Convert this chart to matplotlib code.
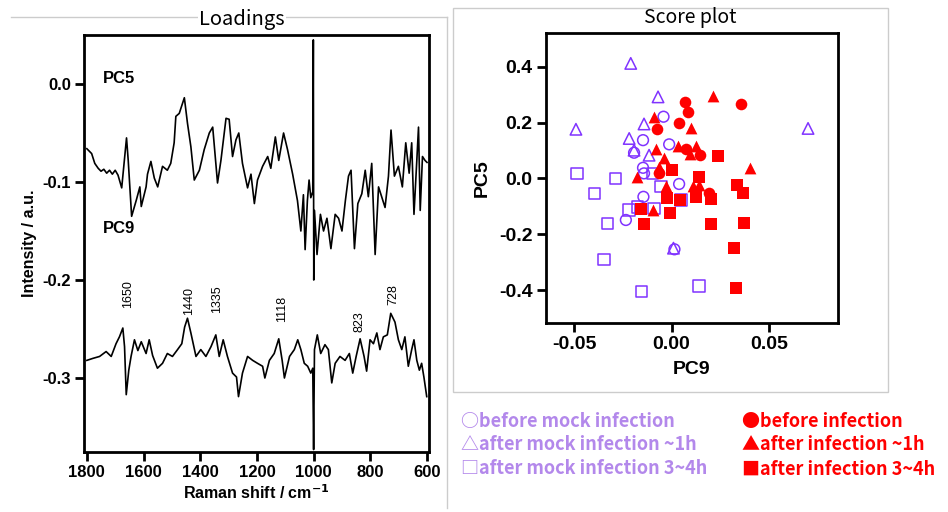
import matplotlib
matplotlib.use("Agg")
import matplotlib.pyplot as plt
from matplotlib.patches import Rectangle
from matplotlib.lines import Line2D

# ---------------- data ----------------
pc5_shift = [1800, 1783, 1772, 1760, 1750, 1740, 1730, 1720, 1710, 1700, 1690, 1677, 1660, 1654, 1642,
             1625, 1613, 1608, 1591, 1586, 1574, 1562, 1550, 1533, 1516, 1504, 1492, 1486, 1474, 1465,
             1456, 1445, 1433, 1421, 1403, 1386, 1368, 1356, 1339, 1327, 1309, 1298, 1286, 1274, 1264,
             1251, 1233, 1221, 1209, 1198, 1180, 1162, 1151, 1135, 1123, 1106, 1092, 1074, 1057, 1045,
             1036, 1030, 1022, 1016, 1010, 1003, 1001, 999.5, 997, 988, 976, 965, 953, 939, 924, 912,
             900, 888, 877, 868, 856, 844, 830, 818, 807, 795, 783, 771, 760, 748, 736, 727, 715, 701,
             687, 675, 663, 654, 646, 636, 630, 624, 616, 607, 600]
pc5_val = [-0.066, -0.071, -0.081, -0.086, -0.089, -0.087, -0.091, -0.088, -0.092, -0.088, -0.093, -0.106,
           -0.055, -0.078, -0.135, -0.118, -0.105, -0.125, -0.105, -0.092, -0.079, -0.096, -0.105, -0.084,
           -0.088, -0.081, -0.060, -0.033, -0.030, -0.022, -0.014, -0.040, -0.064, -0.098, -0.088, -0.067,
           -0.050, -0.044, -0.101, -0.078, -0.035, -0.036, -0.074, -0.057, -0.050, -0.081, -0.106, -0.092,
           -0.122, -0.098, -0.084, -0.074, -0.086, -0.054, -0.078, -0.050, -0.067, -0.092, -0.119, -0.150,
           -0.113, -0.169, -0.119, -0.098, -0.116, -0.110, 0.045, -0.200, -0.129, -0.174, -0.133, -0.150,
           -0.137, -0.168, -0.133, -0.137, -0.150, -0.119, -0.094, -0.088, -0.168, -0.122, -0.112, -0.088,
           -0.115, -0.081, -0.174, -0.105, -0.115, -0.126, -0.094, -0.047, -0.094, -0.084, -0.105, -0.060,
           -0.091, -0.060, -0.133, -0.078, -0.044, -0.129, -0.074, -0.078, -0.080]

pc9_shift = [1800, 1779, 1755, 1732, 1714, 1697, 1685, 1673, 1667, 1661, 1652, 1644, 1632, 1620, 1608,
             1591, 1580, 1568, 1551, 1533, 1516, 1498, 1480, 1465, 1455, 1445, 1433, 1415, 1398, 1380,
             1362, 1345, 1333, 1319, 1304, 1286, 1272, 1265, 1251, 1233, 1215, 1198, 1180, 1172, 1156,
             1139, 1123, 1111, 1103, 1085, 1068, 1056, 1045, 1033, 1021, 1010, 1003, 1000, 997, 987,
             975, 960, 948, 936, 924, 907, 889, 874, 862, 850, 836, 822, 813, 801, 789, 777, 766, 754,
             740, 728, 713, 701, 689, 678, 666, 654, 646, 636, 627, 619, 611, 601]
pc9_val = [-0.282, -0.280, -0.278, -0.273, -0.278, -0.265, -0.258, -0.249, -0.268, -0.317, -0.292, -0.278,
           -0.261, -0.272, -0.263, -0.275, -0.261, -0.277, -0.290, -0.285, -0.275, -0.278, -0.271, -0.265,
           -0.248, -0.239, -0.254, -0.278, -0.271, -0.278, -0.268, -0.256, -0.278, -0.261, -0.278, -0.295,
           -0.299, -0.319, -0.295, -0.278, -0.282, -0.285, -0.288, -0.300, -0.282, -0.275, -0.260, -0.282,
           -0.300, -0.278, -0.271, -0.261, -0.271, -0.285, -0.288, -0.295, -0.290, -0.373, -0.271, -0.256,
           -0.275, -0.266, -0.271, -0.305, -0.285, -0.278, -0.282, -0.275, -0.295, -0.278, -0.260, -0.278,
           -0.293, -0.261, -0.265, -0.254, -0.271, -0.258, -0.256, -0.234, -0.243, -0.261, -0.271, -0.258,
           -0.288, -0.271, -0.261, -0.282, -0.292, -0.285, -0.299, -0.319]

peak_labels = ["1650", "1440", "1335", "1118", "823", "728"]
peak_x = [1655, 1440, 1341, 1112, 839, 719]
peak_y = [-0.229, -0.236, -0.234, -0.243, -0.253, -0.226]

# score plot (PC9, PC5)
mock_before_x = [-0.0041, -0.0146, -0.0012, -0.0192, -0.0146, -0.0141, 0.0039, -0.0144, -0.0234, 0.0015]
mock_before_y = [0.221, 0.137, 0.122, 0.092, 0.038, 0.018, -0.020, -0.066, -0.149, -0.254]
mock_1h_x = [-0.0209, -0.0069, -0.0141, -0.0217, -0.0192, -0.0115, 0.0010, -0.0490, 0.0700]
mock_1h_y = [0.412, 0.292, 0.195, 0.143, 0.101, 0.083, -0.250, 0.176, 0.179]
mock_34h_x = [-0.0286, -0.0328, -0.0217, -0.0174, -0.0089, -0.0097, -0.0055, 0.0048, -0.0485,
              -0.0395, -0.0347, -0.0154, 0.0142]
mock_34h_y = [0.000, -0.161, -0.114, -0.102, -0.108, 0.018, -0.030, -0.078, 0.018,
              -0.054, -0.290, -0.406, -0.386]
inf_before_x = [0.0070, 0.0082, 0.0355, 0.0039, -0.0075, 0.0073, 0.0147, -0.0064, 0.0193]
inf_before_y = [0.275, 0.239, 0.266, 0.197, 0.176, 0.107, 0.083, 0.020, -0.054]
inf_1h_x = [0.0215, -0.0089, 0.0099, -0.0080, 0.0034, 0.0125, 0.0096, -0.0038, -0.0064, -0.0178,
            0.0400, -0.0029, 0.0108, 0.0142, -0.0097]
inf_1h_y = [0.295, 0.219, 0.179, 0.107, 0.116, 0.116, 0.087, 0.072, 0.042, 0.006,
            0.036, -0.028, -0.028, -0.024, -0.114]
inf_34h_x = [0.0236, 0.0000, 0.0142, 0.0335, 0.0369, -0.0021, 0.0044, 0.0125, 0.0205, -0.0157,
             -0.0008, -0.0141, 0.0202, 0.0372, 0.0322, 0.0332]
inf_34h_y = [0.081, 0.030, 0.006, -0.024, -0.054, -0.072, -0.078, -0.066, -0.075, -0.111,
             -0.125, -0.164, -0.164, -0.159, -0.251, -0.392]

legend_labels_mock = ["○before mock infection", "△after mock infection ~1h", "□after mock infection 3~4h"]
legend_labels_inf = ["●before infection", "▲after infection ~1h", "■after infection 3~4h"]

# ---------------- style ----------------
TICKFONT = "Liberation Sans"
CJK = ["Noto Sans CJK JP", "DejaVu Sans"]
PURPLE = "#8033ff"
LPURPLE = "#b388eb"
RED = "#ff0000"

fig = plt.figure(figsize=(9.48, 5.12), dpi=100)

# panel boxes
fig.add_artist(Line2D([11/948, 447/948], [1 - 17/512, 1 - 17/512], color="#cccccc", lw=1.0))
fig.add_artist(Line2D([447/948, 447/948], [1 - 17/512, 1 - 508/512], color="#cccccc", lw=1.0))
fig.add_artist(Rectangle((453/948, 1 - 392/512), 435/948, 384/512, transform=fig.transFigure,
                         fill=False, ec="#cccccc", lw=1.0))

# ---------------- Loadings ----------------
ax1 = fig.add_axes([84/948, 1 - 452/512, 345/948, 417/512])
ax1.plot(pc5_shift, pc5_val, color="black", lw=1.2)
ax1.plot(pc9_shift, pc9_val, color="black", lw=1.2)
ax1.set_xlim(1810, 593)
ax1.set_ylim(-0.3755, 0.05)
ax1.set_xticks([1800, 1600, 1400, 1200, 1000, 800, 600])
ax1.set_yticks([0.0, -0.1, -0.2, -0.3])
ax1.set_yticklabels(["0.0", "-0.1", "-0.2", "-0.3"])
for t, lx, ly in zip(peak_labels, peak_x, peak_y):
    ax1.text(lx, ly, t, rotation=90, ha="center", va="bottom", fontsize=9,
             family="Liberation Sans")
ax1.text(0.055, 0.895, "PC5", transform=ax1.transAxes, fontsize=12, fontweight="bold",
         family=TICKFONT, va="center")
ax1.text(0.055, 0.535, "PC9", transform=ax1.transAxes, fontsize=12, fontweight="bold",
         family=TICKFONT, va="center")
ax1.set_xlabel("Raman shift / cm$^{\\mathbf{-1}}$", fontsize=11.5, fontweight="bold",
               family=TICKFONT, labelpad=2)
ax1.set_ylabel("Intensity / a.u.", fontsize=11.5, fontweight="bold", family=TICKFONT, labelpad=4)
fig.text(242/948, 1 - 19/512, "Loadings", ha="center", va="center", fontsize=14.5, family=CJK,
         bbox=dict(facecolor="white", edgecolor="none", pad=1))

# ---------------- Score plot ----------------
ax2 = fig.add_axes([545.7/948, 1 - 322.7/512, 292/948, 290/512])
ms = 60
ax2.scatter(mock_before_x, mock_before_y, s=ms, marker="o", facecolors="none", edgecolors=PURPLE, linewidths=1.1)
ax2.scatter(mock_1h_x, mock_1h_y, s=ms + 8, marker="^", facecolors="none", edgecolors=PURPLE, linewidths=1.1)
ax2.scatter(mock_34h_x, mock_34h_y, s=ms + 8, marker="s", facecolors="none", edgecolors=PURPLE, linewidths=1.1)
ax2.scatter(inf_before_x, inf_before_y, s=ms + 10, marker="o", color=RED, linewidths=0)
ax2.scatter(inf_1h_x, inf_1h_y, s=ms + 12, marker="^", color=RED, linewidths=0)
ax2.scatter(inf_34h_x, inf_34h_y, s=ms + 14, marker="s", color=RED, linewidths=0)
ax2.set_xlim(-0.0645, 0.0852)
ax2.set_ylim(-0.517, 0.522)
ax2.set_xticks([-0.05, 0.0, 0.05])
ax2.set_xticklabels(["-0.05", "0.00", "0.05"])
ax2.set_yticks([0.4, 0.2, 0.0, -0.2, -0.4])
ax2.set_yticklabels(["0.4", "0.2", "0.0", "-0.2", "-0.4"])
ax2.set_xlabel("PC9", fontsize=14, fontweight="bold", family=TICKFONT, labelpad=6)
ax2.set_ylabel("PC5", fontsize=14, fontweight="bold", family=TICKFONT, labelpad=6)
fig.text(690/948, 1 - 18/512, "Score plot", ha="center", va="center", fontsize=14, family=CJK)

for ax, fs in ((ax1, 12), (ax2, 14)):
    for sp in ax.spines.values():
        sp.set_linewidth(2.0)
    ax.tick_params(direction="out", length=6.5, width=2.0, labelsize=fs, pad=3)
    for lab in ax.get_xticklabels() + ax.get_yticklabels():
        lab.set_fontweight("bold")
        lab.set_family(TICKFONT)

# legend text
rows_y = [421, 445, 469]
for lab, yy in zip(legend_labels_mock, rows_y):
    fig.text(461/948, 1 - yy/512, lab, ha="left", va="center", fontsize=13, color=LPURPLE,
             family=CJK, fontweight="bold")
for lab, yy in zip(legend_labels_inf, rows_y):
    fig.text(742/948, 1 - yy/512, lab, ha="left", va="center", fontsize=13, color=RED,
             family=CJK, fontweight="bold")

fig.savefig("out.png", dpi=100)
